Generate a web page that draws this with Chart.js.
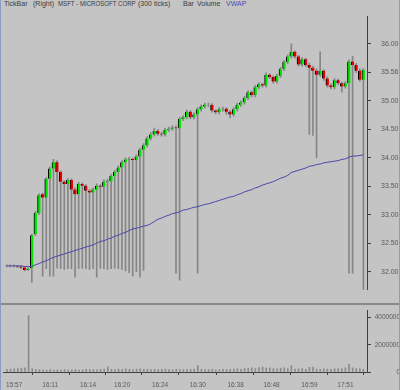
<!DOCTYPE html>
<html>
<head>
<meta charset="utf-8">
<script src="https://cdn.jsdelivr.net/npm/chart.js@4.4.1/dist/chart.umd.min.js"></script>
<style>
  html, body { margin: 0; padding: 0; }
  body {
    width: 400px; height: 390px; background: #c4c4c4;
    position: relative; overflow: hidden;
    font-family: "Liberation Sans", Arial, sans-serif;
  }
  .edge { position: absolute; top: 0; width: 1px; height: 390px; background: #8c9cc0; }
  .edge.left { left: 0; }
  .edge.right { right: 0; }
  .sep { position: absolute; left: 0; top: 303px; width: 400px; height: 2px; background: #8a8a8a; }
  .header { position: absolute; top: 0; left: 0; font-size: 7px; line-height: 8px; color: #3c3c3c; white-space: nowrap; }
  .header span { position: absolute; top: 0; }
  .header .vwap { color: #4a4ab4; }
  #price-chart { position: absolute; left: 0; top: 0; }
  #volume-chart { position: absolute; left: 0; top: 306px; }
</style>
</head>
<body>
<div class="header">
  <span style="left:4px">TickBar</span>
  <span style="left:33px">(Right)</span>
  <span style="left:58px; transform:scaleX(0.87); transform-origin:left">MSFT - MICROSOFT CORP</span>
  <span style="left:138px">(300 ticks)</span>
  <span style="left:183px">Bar</span>
  <span style="left:197px">Volume</span>
  <span class="vwap" style="left:226px">VWAP</span>
</div>
<canvas id="price-chart" width="400" height="304"></canvas>
<div class="sep"></div>
<canvas id="volume-chart" width="400" height="84"></canvas>
<div class="edge left"></div>
<div class="edge right"></div>

<script>
// --- data (one entry per tick bar) ---
const opens = [
  32.10, 32.10, 32.10, 32.10, 32.09, 32.07, 32.03, 32.06, 32.66, 33.03,
  33.36, 33.30, 33.63, 33.81, 33.92, 33.75, 33.58, 33.54, 33.61, 33.44,
  33.36, 33.54, 33.51, 33.42, 33.39, 33.44, 33.51, 33.49, 33.58, 33.59,
  33.68, 33.75, 33.83, 33.92, 33.97, 33.98, 33.96, 34.02, 34.14, 34.22,
  34.34, 34.41, 34.47, 34.42, 34.41, 34.49, 34.51, 34.53, 34.52, 34.68,
  34.71, 34.81, 34.71, 34.76, 34.85, 34.90, 34.93, 34.93, 34.83, 34.80,
  34.85, 34.86, 34.81, 34.76, 34.85, 34.93, 34.97, 35.05, 35.15, 35.10,
  35.24, 35.29, 35.27, 35.46, 35.42, 35.34, 35.44, 35.56, 35.68, 35.78,
  35.86, 35.78, 35.64, 35.73, 35.63, 35.58, 35.53, 35.46, 35.53, 35.39,
  35.27, 35.24, 35.36, 35.31, 35.25, 35.31, 35.69, 35.63, 35.53, 35.37
];
const closes = [
  32.10, 32.10, 32.10, 32.09, 32.07, 32.03, 32.05, 32.64, 33.03, 33.34,
  33.30, 33.63, 33.81, 33.92, 33.75, 33.58, 33.54, 33.61, 33.44, 33.36,
  33.54, 33.51, 33.42, 33.39, 33.44, 33.51, 33.49, 33.58, 33.59, 33.68,
  33.75, 33.83, 33.92, 33.97, 33.98, 33.96, 34.02, 34.14, 34.22, 34.34,
  34.41, 34.47, 34.42, 34.41, 34.49, 34.51, 34.53, 34.52, 34.68, 34.71,
  34.81, 34.71, 34.76, 34.85, 34.90, 34.93, 34.93, 34.83, 34.80, 34.85,
  34.86, 34.81, 34.76, 34.85, 34.93, 34.97, 35.05, 35.15, 35.10, 35.24,
  35.29, 35.27, 35.46, 35.42, 35.34, 35.44, 35.56, 35.68, 35.78, 35.86,
  35.78, 35.64, 35.73, 35.63, 35.58, 35.53, 35.46, 35.53, 35.39, 35.27,
  35.24, 35.36, 35.31, 35.25, 35.31, 35.69, 35.63, 35.53, 35.37, 35.54
];
const highs = [
  32.12, 32.12, 32.12, 32.11, 32.10, 32.09, 32.07, 32.66, 33.06, 33.37,
  33.38, 33.65, 33.84, 33.97, 33.95, 33.77, 33.60, 33.64, 33.63, 33.47,
  33.57, 33.56, 33.53, 33.44, 33.47, 33.54, 33.53, 33.61, 33.62, 33.71,
  33.78, 33.86, 33.95, 34.00, 34.01, 34.00, 34.05, 34.17, 34.25, 34.37,
  34.44, 34.52, 34.50, 34.45, 34.52, 34.54, 34.56, 34.56, 34.71, 34.74,
  34.84, 34.83, 34.79, 34.88, 34.93, 34.96, 34.96, 34.95, 34.84, 34.88,
  34.89, 34.88, 34.83, 34.88, 34.96, 35.00, 35.08, 35.18, 35.17, 35.27,
  35.32, 35.31, 35.49, 35.48, 35.44, 35.47, 35.59, 35.71, 35.81, 36.00,
  35.88, 35.80, 35.76, 35.75, 35.66, 35.61, 35.56, 35.86, 35.55, 35.42,
  35.30, 35.39, 35.38, 35.33, 35.34, 35.72, 35.78, 35.66, 35.56, 35.57
];
const lows = [
  32.08, 32.08, 32.08, 32.07, 32.05, 32.01, 32.02, 31.81, 32.63, 33.00,
  31.92, 32.05, 31.92, 31.92, 32.06, 32.05, 32.04, 32.05, 32.05, 31.90,
  32.05, 32.06, 32.05, 32.04, 32.05, 31.90, 32.06, 32.05, 32.04, 32.05,
  32.06, 32.05, 32.04, 32.01, 31.98, 31.92, 32.00, 31.90, 32.02, 34.19,
  34.31, 34.38, 34.39, 34.38, 34.38, 34.46, 34.48, 31.97, 31.85, 34.65,
  34.68, 34.68, 34.68, 31.97, 34.82, 34.87, 34.90, 34.80, 34.77, 34.77,
  34.82, 34.76, 34.70, 34.73, 34.82, 34.90, 34.94, 35.02, 35.07, 35.07,
  35.21, 35.24, 35.24, 35.39, 35.31, 35.31, 35.41, 35.53, 35.65, 35.75,
  35.75, 35.61, 35.61, 35.60, 34.41, 34.39, 34.00, 35.43, 35.36, 35.24,
  35.21, 35.21, 35.28, 35.15, 35.22, 31.97, 31.97, 35.50, 35.34, 31.68
];
const vwap = [
  32.10, 32.10, 32.10, 32.10, 32.10, 32.09, 32.09, 32.09, 32.12, 32.14,
  32.17, 32.19, 32.22, 32.25, 32.27, 32.29, 32.31, 32.33, 32.35, 32.37,
  32.39, 32.41, 32.43, 32.45, 32.47, 32.50, 32.53, 32.54, 32.57, 32.59,
  32.62, 32.64, 32.67, 32.69, 32.72, 32.75, 32.76, 32.78, 32.80, 32.81,
  32.84, 32.88, 32.92, 32.94, 32.97, 32.99, 33.02, 33.03, 33.05, 33.08,
  33.09, 33.11, 33.13, 33.14, 33.16, 33.18, 33.19, 33.21, 33.23, 33.25,
  33.27, 33.29, 33.31, 33.32, 33.35, 33.37, 33.40, 33.42, 33.44, 33.47,
  33.49, 33.52, 33.54, 33.56, 33.58, 33.61, 33.64, 33.66, 33.69, 33.74,
  33.76, 33.78, 33.80, 33.82, 33.85, 33.86, 33.88, 33.89, 33.91, 33.92,
  33.93, 33.94, 33.95, 33.97, 33.98, 34.01, 34.03, 34.03, 34.04, 34.05
];
const volumes = [
  180000, 220000, 240000, 260000, 280000, 300000, 4150000, 250000, 200000, 180000,
  160000, 150000, 170000, 140000, 160000, 150000, 170000, 140000, 160000, 180000,
  150000, 160000, 200000, 170000, 180000, 160000, 200000, 220000, 380000, 200000,
  180000, 220000, 190000, 240000, 200000, 180000, 210000, 230000, 200000, 190000,
  180000, 200000, 170000, 190000, 210000, 180000, 160000, 200000, 180000, 170000,
  190000, 200000, 220000, 480000, 200000, 180000, 170000, 190000, 160000, 180000,
  200000, 170000, 190000, 220000, 240000, 200000, 260000, 280000, 300000, 260000,
  320000, 360000, 280000, 300000, 260000, 240000, 280000, 300000, 260000, 480000,
  220000, 240000, 260000, 200000, 340000, 360000, 220000, 200000, 240000, 220000,
  200000, 230000, 260000, 240000, 300000, 560000, 300000, 260000, 240000, 200000
];
// bar index where each time label sits, and the labels
const timeTickIdx = [2, 12, 22.5, 32, 42.5, 53, 63.5, 73.5, 84, 94];
const timeLabels = ['15:57', '16:11', '16:14', '16:20', '16:24', '16:30', '16:38', '16:48', '16:59', '17:51'];
const volumeTicks = [0, 2000000, 4000000];
const lastPriceLabel = '35.56';

document.addEventListener('DOMContentLoaded', () => {
    const axisColor = '#404040';
    const labelColor = '#5a5a5a';
    const upColor = '#00e400';
    const downColor = '#e80000';
    const font = { family: '"Liberation Sans", Arial, sans-serif', size: 7 };
    const barCount = closes.length;

    // --- Price panel: wicks, bodies, VWAP ---
    new Chart(document.getElementById('price-chart'), {
        type: 'bar',
        data: {
            datasets: [
                {
                    type: 'line',
                    data: vwap.map((v, i) => ({ x: i, y: v })),
                    borderColor: '#4848aa',
                    borderWidth: 1,
                    pointRadius: 0,
                    order: 0
                },
                {
                    data: opens.map((o, i) => ({ x: i, y: [o, closes[i]] })),
                    backgroundColor: opens.map((o, i) => closes[i] >= o ? upColor : downColor),
                    borderColor: '#000',
                    borderWidth: { left: 1, right: 0, top: 0, bottom: 0 },
                    borderSkipped: false,
                    barThickness: 3,
                    grouped: false,
                    order: 1
                },
                {
                    data: lows.map((l, i) => ({ x: i, y: [l, highs[i]] })),
                    backgroundColor: '#868686',
                    barThickness: 1,
                    grouped: false,
                    order: 2
                }
            ]
        },
        options: {
            responsive: false,
            animation: false,
            devicePixelRatio: 1,
            layout: { autoPadding: false, padding: { left: 3, top: 16, right: 0, bottom: 4 } },
            plugins: { legend: { display: false }, tooltip: { enabled: false } },
            scales: {
                x: { type: 'linear', min: -1, max: barCount, offset: false, display: false },
                y: {
                    position: 'right',
                    min: 31.68,
                    max: 36.49,
                    afterFit: scale => { scale.width = 33; },
                    grid: { drawOnChartArea: false, color: axisColor, tickLength: 4 },
                    border: { color: axisColor, dash: [1, 1] },
                    ticks: {
                        stepSize: 0.5,
                        includeBounds: false,
                        color: labelColor,
                        font: font,
                        padding: 10,
                        callback: v => v === 35.5 ? lastPriceLabel : v.toFixed(2)
                    }
                }
            }
        }
    });

    // --- Volume panel ---
    new Chart(document.getElementById('volume-chart'), {
        type: 'bar',
        data: {
            datasets: [{
                data: volumes.map((v, i) => ({ x: i, y: v })),
                backgroundColor: '#8a8a8a',
                barThickness: 1
            }]
        },
        options: {
            responsive: false,
            animation: false,
            devicePixelRatio: 1,
            layout: { autoPadding: false, padding: { left: 3, top: 2, right: 0, bottom: 0 } },
            plugins: { legend: { display: false }, tooltip: { enabled: false } },
            scales: {
                x: {
                    type: 'linear',
                    min: -1,
                    max: barCount,
                    offset: false,
                    afterBuildTicks: scale => { scale.ticks = timeTickIdx.map(v => ({ value: v })); },
                    afterFit: scale => { scale.height = 18; },
                    grid: { drawOnChartArea: false, color: axisColor, tickLength: 3 },
                    border: { color: axisColor },
                    ticks: {
                        autoSkip: false,
                        maxRotation: 0,
                        color: labelColor,
                        font: { ...font, size: 6.5 },
                        padding: 6,
                        callback: (v, i) => timeLabels[i]
                    }
                },
                y: {
                    position: 'right',
                    min: 0,
                    max: 4500000,
                    afterBuildTicks: scale => { scale.ticks = volumeTicks.map(v => ({ value: v })); },
                    afterFit: scale => { scale.width = 33; },
                    grid: { drawOnChartArea: false, color: axisColor, tickLength: 4 },
                    border: { color: axisColor, dash: [1, 1] },
                    ticks: {
                        color: labelColor,
                        font: { ...font, size: 6.5 },
                        padding: 1,
                        crossAlign: 'far',
                        callback: v => String(v)
                    }
                }
            }
        }
    });
});
</script>
</body>
</html>
